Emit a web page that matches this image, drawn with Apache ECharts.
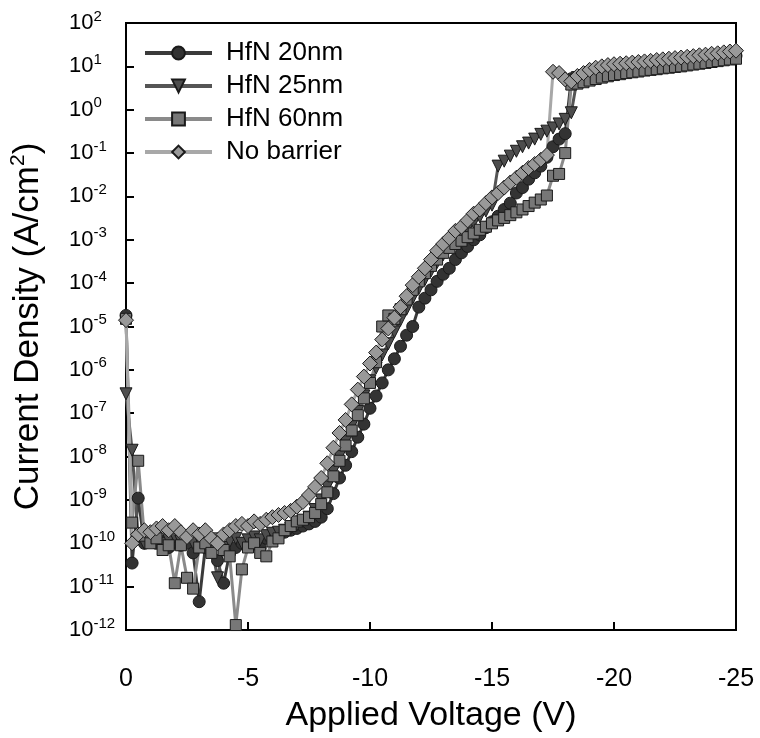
<!DOCTYPE html>
<html>
<head>
<meta charset="utf-8">
<script src="https://cdn.jsdelivr.net/npm/echarts@6/dist/echarts.min.js"></script>
<style>
html,body{margin:0;padding:0;background:#fff;}
#chart{width:760px;height:738px;}
</style>
</head>
<body>
<div id="chart"></div>
<script>
const voltage = [0,-0.25,-0.5,-0.75,-1,-1.25,-1.5,-1.75,-2,-2.25,-2.5,-2.75,-3,-3.25,-3.5,-3.75,-4,-4.25,-4.5,-4.75,-5,-5.25,-5.5,-5.75,-6,-6.25,-6.5,-6.75,-7,-7.25,-7.5,-7.75,-8,-8.25,-8.5,-8.75,-9,-9.25,-9.5,-9.75,-10,-10.25,-10.5,-10.75,-11,-11.25,-11.5,-11.75,-12,-12.25,-12.5,-12.75,-13,-13.25,-13.5,-13.75,-14,-14.25,-14.5,-14.75,-15,-15.25,-15.5,-15.75,-16,-16.25,-16.5,-16.75,-17,-17.25,-17.5,-17.75,-18,-18.25,-18.5,-18.75,-19,-19.25,-19.5,-19.75,-20,-20.25,-20.5,-20.75,-21,-21.25,-21.5,-21.75,-22,-22.25,-22.5,-22.75,-23,-23.25,-23.5,-23.75,-24,-24.25,-24.5,-24.75,-25];

const hfn20 = [1.8e-5,3.5e-11,1.1e-9,1e-10, 1.3e-10,1e-10,1.1e-10,8e-11, 1.1e-10,9e-11,1e-10,6e-11, 4.5e-12,8e-11,1e-10,4e-11, 1.2e-11,6e-11,8e-11,1e-10, 9e-11,1e-10,8e-11,1.3e-10, 1.4e-10,1.6e-10,1.8e-10,2e-10, 2.2e-10,2.5e-10,2.8e-10,3.2e-10, 4e-10,6.3e-10,1.4e-9,3.2e-9, 6.3e-9,1.3e-8,2.8e-8,5.6e-8, 1.3e-7,2.5e-7,5e-7,1e-6, 1.8e-6,3.5e-6,6.3e-6,1e-5, 2.8e-5,4.5e-5,7e-5,1.1e-4, 1.6e-4,2.2e-4,3.5e-4,5e-4, 7e-4,1e-3,1.3e-3,1.9e-3, 2.6e-3,3.5e-3,5e-3,7e-3, 1.2e-2,1.6e-2,2.5e-2,3.5e-2, 5e-2,8e-2,1.4e-1,2.1e-1, 2.8e-1,5.2,5.2,5.3, 5.5,6,6.6,7.2, 8,8.3,8.7,9, 9.4,9.8,10.2,10.6, 11,11.4,11.8,12.3, 12.8,13.3,13.8,14.4, 15,15.6,16.2,17, 17.5];

const hfn25 = [2.8e-7,1.4e-8,1.3e-10,1e-10, 1.2e-10,1.4e-10,1e-10,1.2e-10, 1.4e-10,1.1e-10,1.3e-10,1e-10, 1.2e-10,1.4e-10,9e-11,1.6e-11, 8e-11,1.1e-10,1.3e-10,1e-10, 1.2e-10,1.4e-10,1.2e-10,1.5e-10, 1.7e-10,1.8e-10,2e-10,2.2e-10, 2.6e-10,3.2e-10,4e-10,6e-10, 1e-9,2e-9,4.5e-9,1e-8, 2.2e-8,5e-8,1.1e-7,2.5e-7, 5.6e-7,1.1e-6,2.2e-6,4e-6, 7.5e-6,1.4e-5,2.5e-5,4.5e-5, 7.5e-5,1.2e-4,1.9e-4,3e-4, 4.5e-4,6.5e-4,9.5e-4,1.3e-3, 1.8e-3,2.5e-3,3.4e-3,4.6e-3, 6.3e-3,5e-2,6.5e-2,8.5e-2, 1.1e-1,1.4e-1,1.7e-1,2.1e-1, 2.7e-1,3.2e-1,3.8e-1,4.7e-1, 6e-1,8.5e-1,5.5,6, 6.5,7,7.5,8, 8.4,8.8,9.2,9.6, 10,10.4,10.8,11.2, 11.6,12,12.5,13, 13.5,14,14.6,15.2, 15.8,16.4,17,17.7, 18.3];

const hfn60 = [1.5e-5,3e-10,8e-9,1.5e-10, 1e-10,1.3e-10,7e-11,9e-11, 1.2e-11,9e-11,1.6e-11,9e-12, 8e-11,1e-10,6e-11,1.3e-10, 7e-11,5e-11,1.3e-12,2.5e-11, 8e-11,1e-10,6e-11,5e-11, 1.1e-10,1.3e-10,2e-10,2.5e-10, 3.2e-10,3.5e-10,4e-10,5e-10, 8e-10,1.5e-9,3.5e-9,8e-9, 1.8e-8,4e-8,9e-8,2.2e-7, 5e-7,1.5e-6,1e-5,1.8e-5, 1.5e-5,2.5e-5,4.2e-5,7e-5, 1.1e-4,1.7e-4,2.5e-4,3.5e-4, 5e-4,6.5e-4,8e-4,9.5e-4, 1.15e-3,1.4e-3,1.7e-3,2e-3, 2.4e-3,2.8e-3,3.2e-3,3.7e-3, 4.3e-3,5e-3,6e-3,7.2e-3, 8.5e-3,1.05e-2,3e-2,3.3e-2, 1e-1,3.8,4,4.3, 4.7,5.1,5.5,5.9, 6.3,6.6,7,7.3, 7.6,8,8.3,8.6, 9,9.3,9.7,10, 10.5,11,11.5,12, 12.6,13.2,13.8,14.4, 15];

const noBarrier = [1.4e-5,1e-10,1.6e-10,2e-10, 1.8e-10,2.2e-10,2.5e-10,2e-10, 2.5e-10,1.8e-10,1.4e-10,2e-10, 1.6e-10,2e-10,1.3e-10,1e-10, 1.6e-10,2e-10,2.5e-10,2.8e-10, 2.5e-10,3.2e-10,2.8e-10,3.5e-10, 4e-10,4.5e-10,5e-10,5.6e-10, 7e-10,9e-10,1.3e-9,2e-9, 3.2e-9,7e-9,1.6e-8,3.5e-8, 7e-8,1.6e-7,3.5e-7,7e-7, 1.4e-6,2.5e-6,5e-6,9e-6, 1.6e-5,2.8e-5,5e-5,9e-5, 1.4e-4,2.2e-4,3.5e-4,5.6e-4, 8e-4,1.1e-3,1.6e-3,2e-3, 2.8e-3,4e-3,5e-3,7e-3, 9.5e-3,1.2e-2,1.6e-2,2.1e-2, 2.7e-2,3.5e-2,4.5e-2,5.6e-2, 7e-2,9e-2,7.5,7, 5,4.5,6,7, 8.3,9.3,10,10.7, 11.2,11.5,11.8,12.2, 12.6,13,13.4,14, 14.5,15,15.5,16, 16.6,17.2,18,18.6, 19.5,20,21,22, 23];

const seriesNames = ['HfN 20nm','HfN 25nm','HfN 60nm','No barrier'];
const xTicks = [0,-5,-10,-15,-20,-25];

const FONT = 'Liberation Sans, Arial, Helvetica, sans-serif';
const chart = echarts.init(document.getElementById('chart'), null, {renderer:'canvas'});

function pairs(ys){ return voltage.map((v,i)=>[v, ys[i]]); }

function mkSeries(name, ys, symbol, fill, line, size, rotate){
  return {
    name, type:'line', data: pairs(ys), symbol, symbolSize:size, symbolRotate: rotate||0,
    showSymbol:true, clip:false,
    lineStyle:{color:line, width:3},
    itemStyle:{color:fill, borderColor:'#1a1a1a', borderWidth:1},
    emphasis:{disabled:true}
  };
}

chart.setOption({
  animation:false,
  backgroundColor:'#fff',
  textStyle:{fontFamily:FONT},
  grid:{left:124, right:24, top:23, bottom:103, show:true, borderColor:'#000', borderWidth:2, backgroundColor:'transparent'},
  legend:{
    orient:'vertical', left:138, top:35, itemWidth:67, itemHeight:16, itemGap:7,
    lineStyle:{width:4},
    textStyle:{fontFamily:FONT, fontSize:26, color:'#000', padding:[0,0,0,9]},
    data: seriesNames
  },
  xAxis:{
    type:'value', min:-25, max:0, interval:5, inverse:true,
    axisLine:{show:true, lineStyle:{color:'#000', width:2}},
    axisTick:{show:true, inside:true, length:8, lineStyle:{color:'#000', width:2}},
    axisLabel:{color:'#000', fontSize:25, fontFamily:FONT, margin:37,
      formatter: v => (xTicks.indexOf(v) >= 0 ? String(v) : '')},
    splitLine:{show:false},
    name:'Applied Voltage (V)', nameLocation:'middle', nameGap:69,
    nameTextStyle:{color:'#000', fontSize:34, fontFamily:FONT}
  },
  yAxis:{
    type:'log', logBase:10, min:1e-12, max:1e2, interval:1,
    axisLine:{show:true, lineStyle:{color:'#000', width:2}},
    axisTick:{show:true, inside:true, length:8, lineStyle:{color:'#000', width:2}},
    axisLabel:{align:'left', margin:57, color:'#000', fontFamily:FONT,
      formatter: v => '{b|10}{s|' + Math.round(Math.log10(v)) + '}',
      rich:{b:{fontSize:22, color:'#000', fontFamily:FONT}, s:{fontSize:15, color:'#000', fontFamily:FONT, verticalAlign:'top', padding:[0,0,13,0]}}
    },
    splitLine:{show:false},
    name:'Current Density (A/cm{s|2})', nameLocation:'middle', nameGap:77, nameRotate:90,
    nameTextStyle:{color:'#000', fontSize:35, fontFamily:FONT,
      rich:{s:{fontSize:21, color:'#000', fontFamily:FONT, verticalAlign:'top', padding:[0,0,20,0]}}}
  },
  series:[
    mkSeries(seriesNames[0], hfn20, 'circle', '#333333', '#3a3a3a', 12),
    mkSeries(seriesNames[1], hfn25, 'triangle', '#4d4d4d', '#555555', 12, 180),
    mkSeries(seriesNames[2], hfn60, 'rect', '#777777', '#8a8a8a', 11),
    mkSeries(seriesNames[3], noBarrier, 'diamond', '#999999', '#a8a8a8', 15)
  ]
});
</script>
</body>
</html>
